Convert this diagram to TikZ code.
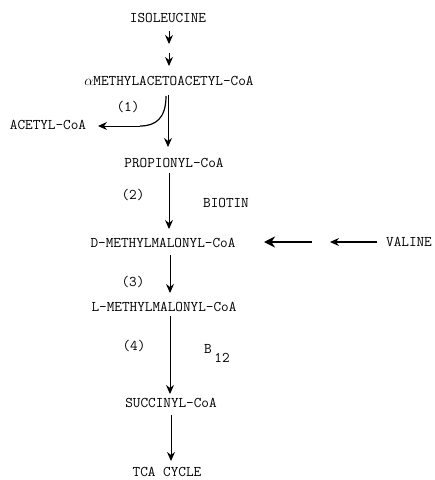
\documentclass[tikz,border=0pt]{standalone}
\usetikzlibrary{arrows.meta}
\tikzset{
  lbl/.style={inner sep=0pt, font=\ttfamily\fontsize{14.8}{16}\selectfont},
  arr/.style={line width=0.9pt, -{Stealth[length=9pt,width=8pt,inset=3pt]}},
  thickarr/.style={line width=2pt, -{Stealth[length=11pt,width=11pt,inset=3.5pt]}},
}
\begin{document}
\begin{tikzpicture}[x=1pt,y=-1pt]
\useasboundingbox (0,0) rectangle (435,480);
\node[lbl] (ile)  at (168,18)  {ISOLEUCINE};
\node[lbl] (mac)  at (169,81)  {$\alpha$METHYLACETOACETYL-CoA};
\node[lbl] (acet) at (48,125)  {ACETYL-CoA};
\node[lbl] (prop) at (174,163) {PROPIONYL-CoA};
\node[lbl] (dmm)  at (163,243) {D-METHYLMALONYL-CoA};
\node[lbl] (val)  at (409,242) {VALINE};
\node[lbl] (lmm)  at (164,307) {L-METHYLMALONYL-CoA};
\node[lbl] (succ) at (171,403) {SUCCINYL-CoA};
\node[lbl] (tca)  at (167,472) {TCA CYCLE};
\node[lbl] (e1) at (128,107) {(1)};
\node[lbl] (e2) at (133,195) {(2)};
\node[lbl] (e3) at (133,282) {(3)};
\node[lbl] (e4) at (134,346) {(4)};
\node[lbl] (biotin) at (226,203) {BIOTIN};
\node[lbl] (b12) at (208,349) {B};
\node[lbl] (b12s) at (222,358) {12};
% isoleucine steps
\coordinate (i1) at (169,31);
\coordinate (i2) at (169,44);
\coordinate (i3) at (169,53);
\coordinate (i4) at (169,66);
\draw[arr] (i1) -- (i2);
\draw[arr] (i3) -- (i4);
% split
\coordinate (s0) at (168,95);
\coordinate (s1) at (168,147);
\coordinate (c1) at (140,126);
\coordinate (c2) at (98,126);
\draw[arr] (s0) -- (s1);
\draw[line width=1.2pt] (166,96) .. controls (166,118) and (156,126) .. (c1);
\draw[arr] (c1) -- (c2);
% main chain
\draw[arr] (169,173) -- (169,229);
\draw[arr] (170,255) -- (170,293);
\draw[arr] (170,316) -- (170,394);
\draw[arr] (171,415) -- (171,461);
% valine
\coordinate (v1) at (312,242);
\coordinate (v2) at (264,242);
\coordinate (v3) at (377,242);
\coordinate (v4) at (330,242);
\draw[thickarr] (v1) -- (v2);
\draw[arr, line width=1.2pt] (v3) -- (v4);
\end{tikzpicture}
\end{document}
